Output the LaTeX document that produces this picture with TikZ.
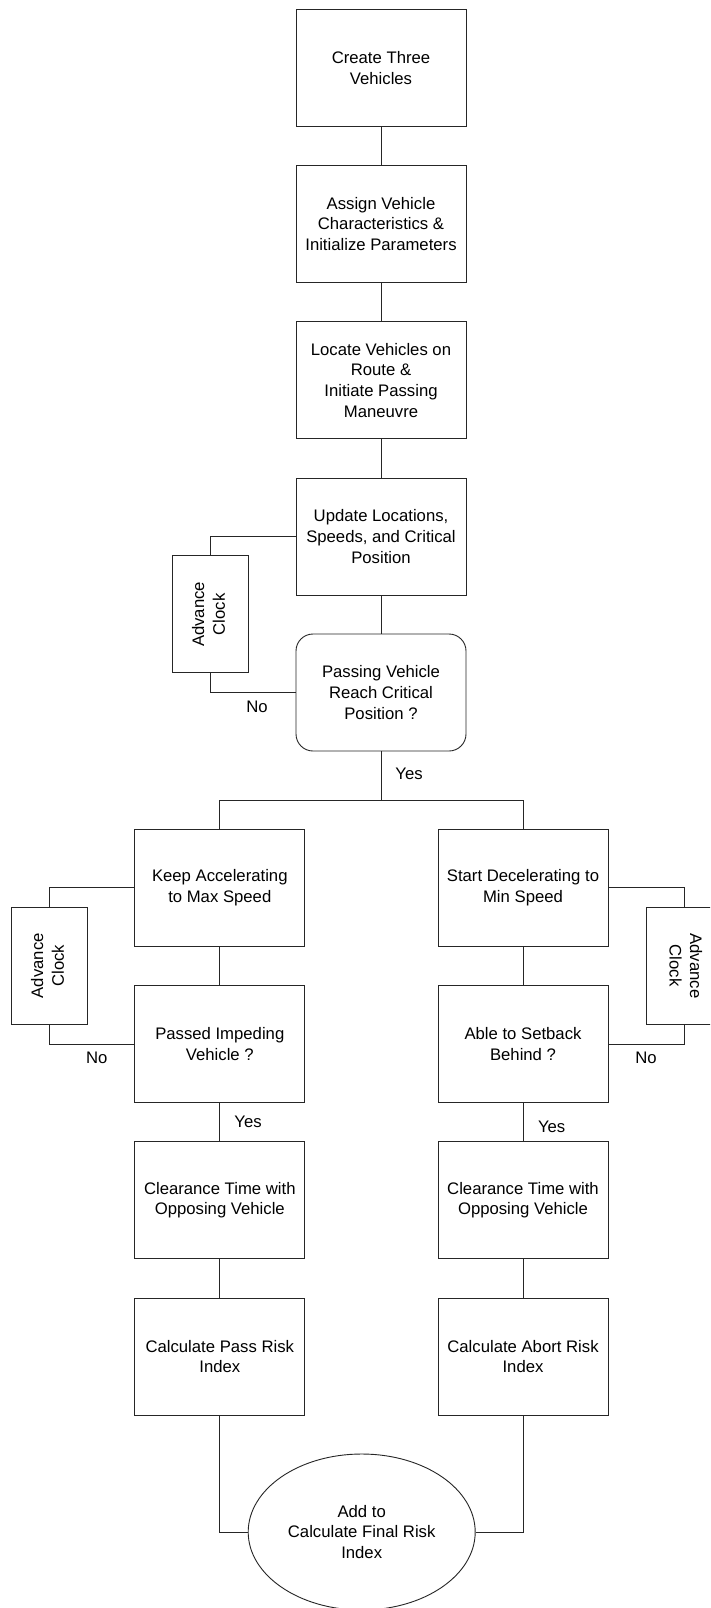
\documentclass[tikz,border=0pt]{standalone}
\usepackage{fontspec}
\setmainfont{Liberation Sans}
\usetikzlibrary{shapes.geometric}
\tikzset{
  base/.style={font=\fontsize{16.7pt}{20.7pt}\selectfont, text=black},
  procbox/.style={base, draw=black!85, line width=0.9pt, rectangle, minimum width=170pt, minimum height=117pt, inner sep=0pt, align=center},
  decbox/.style={procbox, rounded corners=17pt},
  clockbox/.style={base, draw=black!85, line width=0.9pt, rectangle, minimum width=76pt, minimum height=117pt, inner sep=0pt},
  endell/.style={base, draw=black!85, line width=0.9pt, ellipse, minimum width=227pt, minimum height=156pt, inner sep=0pt, align=center},
  conn/.style={draw=black!85, line width=0.9pt},
  lbl/.style={base, inner sep=0pt}
}
\begin{document}
\begin{tikzpicture}[x=1pt, y=-1pt]
\useasboundingbox (0,0) rectangle (710,1608);
\clip (0,0) rectangle (710,1608);
\fill[white] (0,0) rectangle (710,1608);

% main column
\node[procbox] (b1) at (381,67.8) {Create Three\\Vehicles};
\node[procbox] (b2) at (381,224) {Assign Vehicle\\Characteristics \&\\Initialize Parameters};
\node[procbox] (b3) at (381,380.2) {Locate Vehicles on\\Route \&\\Initiate Passing\\Maneuvre};
\node[procbox] (b4) at (381,536.7) {Update Locations,\\Speeds, and Critical\\Position};
\node[decbox] (b5) at (381,692.5) {Passing Vehicle\\Reach Critical\\Position ?};
\node[clockbox] (ca) at (210.3,614.3) {\rotatebox{90}{\begin{tabular}{@{}c@{}}Advance\\Clock\end{tabular}}};

% left column
\node[procbox] (l1) at (219.8,887.7) {Keep Accelerating\\to Max Speed};
\node[procbox] (l2) at (219.8,1044) {Passed Impeding\\Vehicle ?};
\node[procbox] (l3) at (219.8,1200.2) {Clearance Time with\\Opposing Vehicle};
\node[procbox] (l4) at (219.8,1356.5) {Calculate Pass Risk\\Index};
\node[clockbox] (cl) at (49.3,965.8) {\rotatebox{90}{\begin{tabular}{@{}c@{}}Advance\\Clock\end{tabular}}};

% right column
\node[procbox] (r1) at (523,887.7) {Start Decelerating to\\Min Speed};
\node[procbox] (r2) at (523,1044) {Able to Setback\\Behind ?};
\node[procbox] (r3) at (523,1200.2) {Clearance Time with\\Opposing Vehicle};
\node[procbox] (r4) at (523,1356.5) {Calculate Abort Risk\\Index};
\node[clockbox] (cr) at (684,965.8) {\rotatebox{-90}{\begin{tabular}{@{}c@{}}Advance\\Clock\end{tabular}}};

% final
\node[endell] (fin) at (361.7,1532) {Add to\\Calculate Final Risk\\Index};

% junction coordinates
\coordinate (jl) at (219.8,800);
\coordinate (jr) at (523,800);

% connectors
\draw[conn] (b1.south) -- (b2.north);
\draw[conn] (b2.south) -- (b3.north);
\draw[conn] (b3.south) -- (b4.north);
\draw[conn] (b4.south) -- (b5.north);
\draw[conn] (b4.west) -| (ca.north);
\draw[conn] (ca.south) |- (b5.west);
\draw[conn] (b5.south) -- (b5.south |- jl);
\draw[conn] (l1.north) -- (jl) -- (jr) -- (r1.north);

\draw[conn] (l1.south) -- (l2.north);
\draw[conn] (l2.south) -- (l3.north);
\draw[conn] (l3.south) -- (l4.north);
\draw[conn] (l1.west) -| (cl.north);
\draw[conn] (cl.south) |- (l2.west);

\draw[conn] (r1.south) -- (r2.north);
\draw[conn] (r2.south) -- (r3.north);
\draw[conn] (r3.south) -- (r4.north);
\draw[conn] (r1.east) -| (cr.north);
\draw[conn] (cr.south) |- (r2.east);

\draw[conn] (l4.south) |- (fin.west);
\draw[conn] (r4.south) |- (fin.east);

% labels
\node[lbl] (no1) at (257,706.7) {No};
\node[lbl] (yes1) at (409,774) {Yes};
\node[lbl] (no2) at (96.7,1058) {No};
\node[lbl] (yes2) at (248,1121.7) {Yes};
\node[lbl] (no3) at (646,1058) {No};
\node[lbl] (yes3) at (551.7,1126.7) {Yes};
\end{tikzpicture}
\end{document}
